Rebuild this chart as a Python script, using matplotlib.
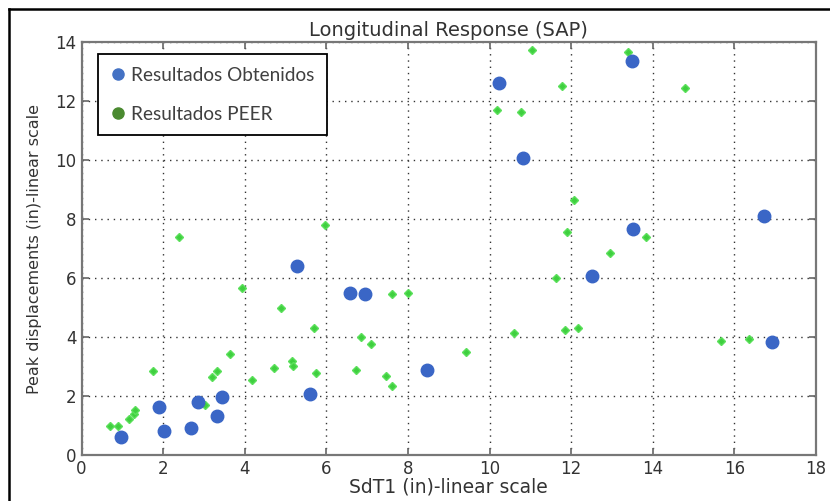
import matplotlib
matplotlib.use('Agg')
import matplotlib.pyplot as plt
from matplotlib.lines import Line2D

# Resultados Obtenidos (blue)
obt_x = [0.96, 1.90, 2.03, 2.68, 2.86, 3.31, 3.43, 5.61, 5.27, 6.58, 6.95, 8.46,
         10.23, 13.48, 10.83, 13.52, 16.73, 12.50, 16.91]
obt_y = [0.60, 1.62, 0.83, 0.93, 1.79, 1.32, 1.96, 2.08, 6.42, 5.49, 5.46, 2.89,
         12.63, 13.36, 10.07, 7.66, 8.12, 6.09, 3.83]

# Resultados PEER (green)
peer_x = [0.70, 0.90, 1.16, 1.28, 1.30, 1.76, 3.02, 3.19, 3.31, 3.64, 3.92, 4.18,
          4.72, 4.88, 5.15, 5.19, 5.70, 5.74, 6.73, 6.86, 7.09, 7.45, 7.62, 7.62,
          8.01, 2.39, 5.97, 9.42, 10.61, 11.64, 11.86, 12.16, 12.95, 15.67, 16.36,
          11.03, 13.40, 11.77, 14.79, 10.19, 10.76, 12.07, 11.89, 13.83]
peer_y = [0.99, 0.99, 1.22, 1.40, 1.52, 2.86, 1.70, 2.64, 2.85, 3.43, 5.66, 2.54,
          2.94, 4.98, 3.20, 3.03, 4.32, 2.77, 2.89, 4.02, 3.78, 2.68, 2.34, 5.47,
          5.51, 7.41, 7.81, 3.51, 4.13, 6.00, 4.23, 4.31, 6.87, 3.88, 3.93,
          13.75, 13.67, 12.52, 12.47, 11.71, 11.64, 8.66, 7.58, 7.41]

xticks = [0, 2, 4, 6, 8, 10, 12, 14, 16, 18]
yticks = [0, 2, 4, 6, 8, 10, 12, 14]

fig = plt.figure(figsize=(8.3, 5.01), dpi=100)
ax = fig.add_axes([0.0983, 0.0918, 0.8848, 0.8234])

ax.plot(peer_x, peer_y, 'D', color='#3fcf3f', ms=4, mec='#5be05b', zorder=3)
ax.plot(obt_x, obt_y, 'o', color='#3a66c6', ms=9, mec='#3a66c6', zorder=4)

ax.set_xlim(0, 18)
ax.set_ylim(0, 14)
ax.set_xticks(xticks)
ax.set_yticks(yticks)
ax.grid(True, linestyle=(0, (1, 3.5)), color='#333333', linewidth=1.0)
ax.tick_params(direction='in', length=5, width=1.2, color='#666666', top=True, right=True,
               labelsize=12, labelcolor='#333333')
for lab in ax.get_xticklabels() + ax.get_yticklabels():
    lab.set_fontfamily('DejaVu Sans')
for sp in ax.spines.values():
    sp.set_color('#777777')
    sp.set_linewidth(1.6)

ax.set_title('Longitudinal Response (SAP)', fontsize=14, color='#333333', pad=5,
             family='DejaVu Sans')
ax.set_xlabel('SdT1 (in)-linear scale', fontsize=13.5, color='#333333', labelpad=0,
              family='DejaVu Sans')
ax.set_ylabel('Peak displacements (in)-linear scale', fontsize=11.5, color='#333333',
              labelpad=10, family='DejaVu Sans')

handles = [Line2D([], [], marker='o', ls='', color='#4472c4', ms=8),
           Line2D([], [], marker='o', ls='', color='#4a8a30', ms=8)]
leg = ax.legend(handles, ['Resultados Obtenidos', 'Resultados PEER'], loc='upper left',
                bbox_to_anchor=(0.022, 0.971), borderaxespad=0, fancybox=False,
                framealpha=1, edgecolor='black', prop={'family': 'Lato', 'size': 13.7},
                handletextpad=0.3, handlelength=0.8, labelspacing=1.15,
                borderpad=0.65, labelcolor='#404040')
leg.get_frame().set_linewidth(1.3)

# outer border of the figure (left and top edges visible)
fig.add_artist(Line2D([9 / 830, 9 / 830], [0, 1 - 9 / 501], color='black', lw=1.8,
                      transform=fig.transFigure))
fig.add_artist(Line2D([9 / 830, 1], [1 - 9 / 501, 1 - 9 / 501], color='black', lw=1.8,
                      transform=fig.transFigure))

fig.savefig('out.png', dpi=100)
